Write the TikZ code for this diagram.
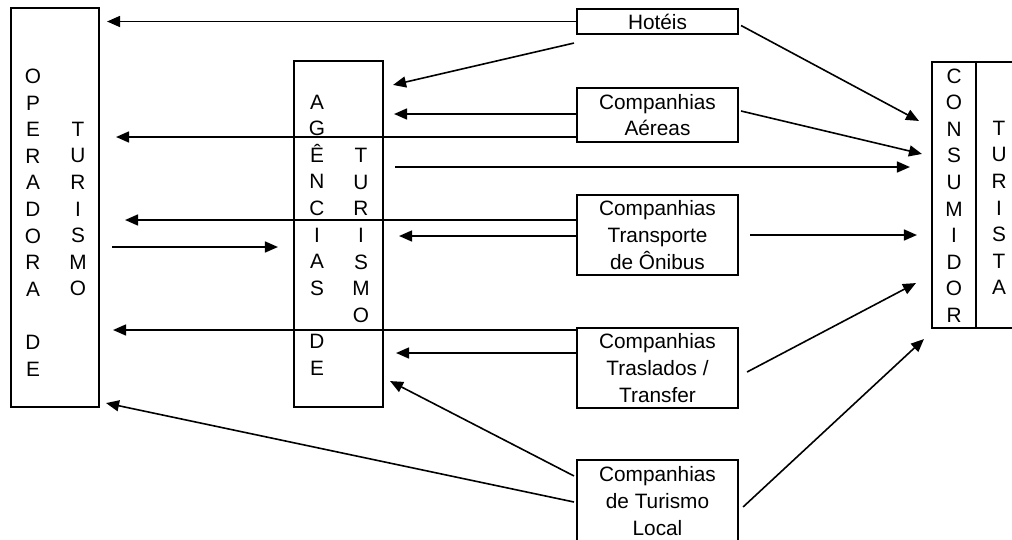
\documentclass[tikz,border=0pt]{standalone}
\usepackage{fontspec}
\setmainfont{Liberation Sans}
\usetikzlibrary{arrows.meta}
\tikzset{
  >={Triangle[length=13pt,width=11pt]},
  bx/.style={draw,line width=2.1pt,inner sep=0pt},
  lbl/.style={align=center,inner sep=0pt,font=\fontsize{20.8}{26.6}\selectfont},
  co/.style={bx,lbl,minimum width=161pt},
  arr/.style={->,line width=1.6pt},
}
\begin{document}
\begin{tikzpicture}[x=1pt,y=-1pt]
\useasboundingbox (0,0) rectangle (1012,539);
% the three big boxes, letters set one under another
\node[bx,minimum width=88pt,minimum height=399pt] (op) at (55,207.5){};
\node[bx,minimum width=89pt,minimum height=346pt] (ag) at (338.5,234){};
\node[bx,minimum width=86pt,minimum height=266pt] (con) at (975,195){};
\draw[line width=1.5pt] ([xshift=45pt]con.north west)--([xshift=45pt]con.south west);
\node[lbl] (op1) at (33,222.5){O\\P\\E\\R\\A\\D\\O\\R\\A\\\mbox{}\\D\\E};
\node[lbl] (op2) at (78,209){T\\U\\R\\I\\S\\M\\O};
\node[lbl] (ag1) at (317,235){A\\G\\Ê\\N\\C\\I\\A\\S\\\mbox{}\\D\\E};
\node[lbl] (ag2) at (361,235.5){T\\U\\R\\I\\S\\M\\O};
\node[lbl] (con1) at (954,195.5){C\\O\\N\\S\\U\\M\\I\\D\\O\\R};
\node[lbl] (con2) at (999,208){T\\U\\R\\I\\S\\T\\A};
% suppliers
\node[co,minimum height=25pt] (hot) at (657.5,21.5){Hotéis};
\node[co,minimum height=54pt] (aer) at (657.5,115){Companhias\\Aéreas};
\node[co,minimum height=80pt] (oni) at (657.5,235){Companhias\\Transporte\\de Ônibus};
\node[co,minimum height=80pt] (tra) at (657.5,368){Companhias\\Traslados /\\Transfer};
\node[co,minimum height=82pt] (loc) at (657.5,501){Companhias\\de Turismo\\Local};
% straight flows
\draw[arr,shorten >=7pt] (hot.west)--(op.east |- hot.west);
\draw[arr,shorten >=10pt] (aer.west |- 0,114)--(ag.east |- 0,114);
\draw[arr,shorten >=16pt] (aer.west |- 0,137)--(op.east |- 0,137);
\draw[arr,shorten <=11pt,shorten >=21pt] (ag.east |- 0,167)--(con.west |- 0,167);
\draw[arr,shorten >=25pt] (oni.west |- 0,220)--(op.east |- 0,220);
\draw[arr,shorten >=15pt] (oni.west |- 0,236)--(ag.east |- 0,236);
\draw[arr,shorten <=12pt,shorten >=15pt] (op.east |- 0,247)--(ag.west |- 0,247);
\draw[arr,shorten <=11pt,shorten >=14pt] (oni.east)--(con.west |- oni.east);
\draw[arr,shorten >=13pt] (tra.west |- 0,330)--(op.east |- 0,330);
\draw[arr,shorten >=12pt] (tra.west |- 0,353)--(ag.east |- 0,353);
% slanted flows
\draw[arr] ([shift={(-2,8)}]hot.south west)--([shift={(9,25)}]ag.north east);
\draw[arr] ([shift={(2,4)}]hot.east)--([shift={(-12,60)}]con.north west);
\draw[arr] ([shift={(2,-4)}]aer.east)--([shift={(-9,93)}]con.north west);
\draw[arr] ([shift={(8,4)}]tra.east)--([shift={(-15,-46)}]con.south west);
\draw[arr] ([shift={(-2,17)}]loc.north west)--([shift={(6,-27)}]ag.south east);
\draw[arr] ([shift={(-2,1)}]loc.west)--([shift={(6,-5)}]op.south east);
\draw[arr] ([shift={(4,6)}]loc.east)--([shift={(-7,10)}]con.south west);
\end{tikzpicture}
\end{document}
